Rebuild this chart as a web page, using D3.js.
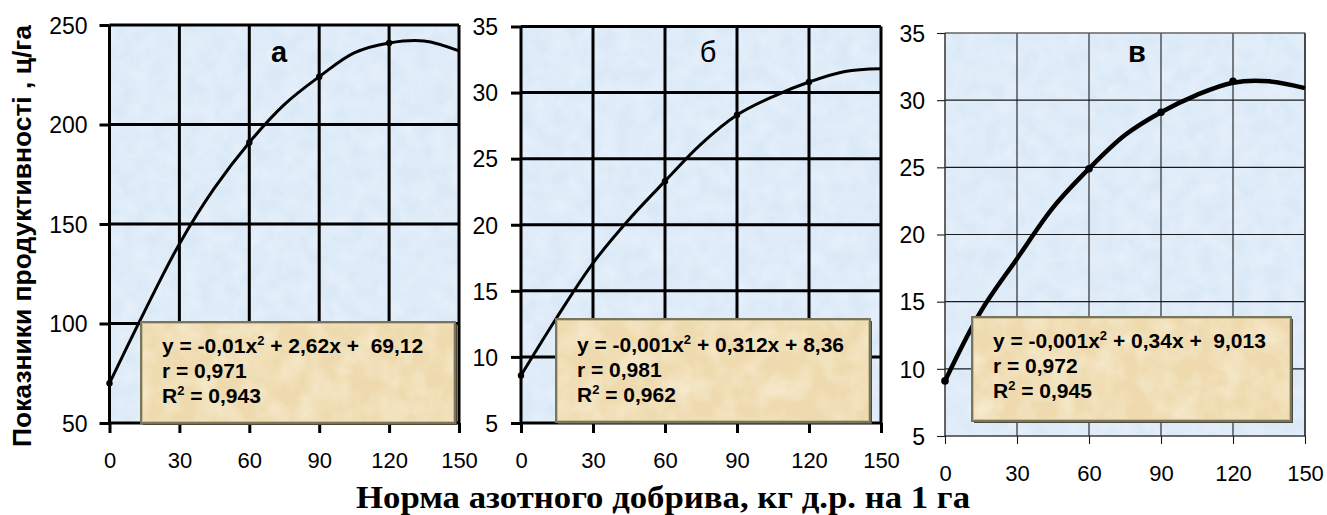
<!DOCTYPE html>
<html><head><meta charset="utf-8">
<script src="https://cdn.jsdelivr.net/npm/d3@7"></script>
<style>
html,body{margin:0;padding:0;background:#fff;}
svg{display:block;}
</style></head>
<body>
<svg id="chart" width="1327" height="515"></svg>
<script>
// ---- data ----
const xTicks = [0, 30, 60, 90, 120, 150];
const yTicksA = [50, 100, 150, 200, 250];
const yTicksBC = [5, 10, 15, 20, 25, 30, 35];
const panelLabels = ["а", "б", "в"];
const curveX = [0, 15, 30, 45, 60, 75, 90, 105, 120, 135, 150];
const curveA = [70, 106, 140, 168, 191, 210, 224, 236, 241, 242, 237];
const curveB = [8.6, 13, 17.1, 20.4, 23.3, 26.1, 28.3, 29.7, 30.8, 31.6, 31.8];
const curveC = [9.1, 14.3, 18.2, 22, 24.9, 27.4, 29.1, 30.4, 31.3, 31.4, 30.9];
const pointsX = [0, 60, 90, 120];
const pointsA = [70, 191, 224, 241];
const pointsB = [8.6, 23.3, 28.3, 30.8];
const pointsC = [9.1, 24.9, 29.1, 31.4];
const eqLeft = ["y = -0,01x", "y = -0,001x", "y = -0,001x"];
const eqRight = [" + 2,62x +  69,12", " + 0,312x + 8,36", " + 0,34x +  9,013"];
const rValues = ["r = 0,971", "r = 0,981", "r = 0,972"];
const r2Values = [" = 0,943", " = 0,962", " = 0,945"];
const yTitle = "Показники продуктивності , ц/га";
const xTitle = "Норма азотного добрива, кг д.р. на 1 га";

// ---- layout ----
const SANS = "Arial, 'Liberation Sans', sans-serif";
const SERIF = "'Liberation Serif', 'Times New Roman', serif";
const panels = [
  {x0:109.5, x1:459, yT:25, yB:423, dom:[50,250], ticks:yTicksA, curve:curveA, pts:pointsA,
   gridW:3, gridC:"#000", curveW:3, r:3.2, tickLen:10, lblOff:22, box:[141,322,455,423], txOff:31, lab:[279,62], labW:"bold"},
  {x0:521, x1:881, yT:26.5, yB:423, dom:[5,35], ticks:yTicksBC, curve:curveB, pts:pointsB,
   gridW:3, gridC:"#000", curveW:3, r:3.2, tickLen:10, lblOff:23, box:[556,319,870,422], txOff:33, lab:[708,62], labW:"normal"},
  {x0:945, x1:1305, yT:33, yB:436, dom:[5,35], ticks:yTicksBC, curve:curveC, pts:pointsC,
   gridW:1.1, gridC:"#1a1a1a", curveW:4.5, r:3.8, tickLen:8, lblOff:20, box:[972,317,1291,421], txOff:31, lab:[1137,62], labW:"bold"}
];

const svg = d3.select("#chart");
const defs = svg.append("defs");
const f1 = defs.append("filter").attr("id","tex").attr("x",0).attr("y",0).attr("width","100%").attr("height","100%");
f1.append("feTurbulence").attr("type","fractalNoise").attr("baseFrequency","0.06").attr("numOctaves",3).attr("seed",3).attr("result","n");
f1.append("feColorMatrix").attr("in","n").attr("type","matrix")
  .attr("values","0 0 0 0 0.86  0 0 0 0 0.92  0 0 0 0 0.98  0 0 0 0.9 -0.25").attr("result","c");
f1.append("feComposite").attr("in","c").attr("in2","SourceGraphic").attr("operator","in");
const f2 = defs.append("filter").attr("id","tex2").attr("x",0).attr("y",0).attr("width","100%").attr("height","100%");
f2.append("feTurbulence").attr("type","fractalNoise").attr("baseFrequency","0.04").attr("numOctaves",3).attr("seed",7).attr("result","n");
f2.append("feColorMatrix").attr("in","n").attr("type","matrix")
  .attr("values","0 0 0 0 0.98  0 0 0 0 0.93  0 0 0 0 0.80  0 0 0 1.0 -0.35").attr("result","c");
f2.append("feComposite").attr("in","c").attr("in2","SourceGraphic").attr("operator","in");

panels.forEach((p, i) => {
  const x = d3.scaleLinear().domain([0,150]).range([p.x0, p.x1]);
  const y = d3.scaleLinear().domain(p.dom).range([p.yB, p.yT]);
  const g = svg.append("g");

  g.append("rect").attr("x",p.x0).attr("y",p.yT).attr("width",p.x1-p.x0).attr("height",p.yB-p.yT)
    .attr("fill","#dbe9f7");
  g.append("rect").attr("x",p.x0).attr("y",p.yT).attr("width",p.x1-p.x0).attr("height",p.yB-p.yT)
    .attr("fill","#dbe9f7").attr("filter","url(#tex)");

  // grid
  g.append("g").selectAll("line").data(p.ticks.slice(1)).join("line")
    .attr("x1",p.x0).attr("x2",p.x1).attr("y1",d=>y(d)).attr("y2",d=>y(d))
    .attr("stroke",p.gridC).attr("stroke-width",p.gridW);
  g.append("g").selectAll("line").data(xTicks.slice(1)).join("line")
    .attr("x1",d=>x(d)).attr("x2",d=>x(d)).attr("y1",p.yT).attr("y2",p.yB)
    .attr("stroke",p.gridC).attr("stroke-width",p.gridW);
  if (i === 2) {
    g.append("rect").attr("x",p.x0).attr("y",p.yT).attr("width",p.x1-p.x0).attr("height",p.yB-p.yT)
      .attr("fill","none").attr("stroke","#888").attr("stroke-width",1);
    g.append("line").attr("x1",p.x1).attr("x2",p.x1).attr("y1",p.yT).attr("y2",p.yB)
      .attr("stroke","#222").attr("stroke-width",1.2);
  }

  // axes
  const ya = g.append("g").attr("transform",`translate(${p.x0},0)`)
    .call(d3.axisLeft(y).tickValues(p.ticks).tickSize(p.tickLen));
  ya.select(".domain").attr("stroke",p.gridC).attr("stroke-width",p.gridW).attr("d",`M0,${p.yT}V${p.yB}`);
  ya.selectAll(".tick line").attr("stroke",p.gridC).attr("stroke-width",p.gridW);
  ya.selectAll(".tick text").style("font-family",SANS).style("font-size","23px").attr("fill","#000")
    .attr("x",-p.lblOff).attr("dy","0.36em");

  const xa = g.append("g").attr("transform",`translate(0,${p.yB})`)
    .call(d3.axisBottom(x).tickValues(xTicks).tickSize(p.tickLen));
  xa.select(".domain").attr("stroke",p.gridC).attr("stroke-width",p.gridW).attr("d",`M${p.x0},0H${p.x1}`);
  xa.selectAll(".tick line").attr("stroke",p.gridC).attr("stroke-width",p.gridW);
  xa.selectAll(".tick text").style("font-family",SANS).style("font-size","22px").attr("fill","#000")
    .attr("y",45).attr("dy",0);

  // curve + markers
  const line = d3.line().x((d,k)=>x(curveX[k])).y(d=>y(d)).curve(d3.curveCatmullRom.alpha(0.5));
  g.append("path").datum(p.curve).attr("d",line).attr("fill","none")
    .attr("stroke","#000").attr("stroke-width",p.curveW).attr("stroke-linejoin","round");
  g.append("g").selectAll("circle").data(p.pts).join("circle")
    .attr("cx",(d,k)=>x(pointsX[k])).attr("cy",d=>y(d)).attr("r",p.r).attr("fill","#000");

  // panel letter
  g.append("text").attr("x",p.lab[0]).attr("y",p.lab[1]).attr("text-anchor","middle")
    .style("font-family",SANS).style("font-size","29px").style("font-weight",p.labW).text(panelLabels[i]);

  // equation box
  const [bx0,by0,bx1,by1] = p.box;
  g.append("rect").attr("x",bx0+2).attr("y",by0+2).attr("width",bx1-bx0).attr("height",by1-by0)
    .attr("fill","#4d4838");
  g.append("rect").attr("x",bx0).attr("y",by0).attr("width",bx1-bx0).attr("height",by1-by0)
    .attr("fill","#eedaae").attr("stroke","#7a745c").attr("stroke-width",2);
  g.append("rect").attr("x",bx0+1).attr("y",by0+1).attr("width",bx1-bx0-2).attr("height",by1-by0-2)
    .attr("fill","#eedaae").attr("filter","url(#tex2)");
  g.append("rect").attr("x",bx0+1.5).attr("y",by0+1.5).attr("width",bx1-bx0-3).attr("height",by1-by0-3)
    .attr("fill","none").attr("stroke","#c9bd95").attr("stroke-width",1);

  const tx = bx0 + 21, ty = by0 + p.txOff;
  const mk = (yy) => g.append("text").attr("x",tx).attr("y",yy)
    .style("font-family",SANS).style("font-size","21px").style("font-weight","bold").style("white-space","pre");
  const t1 = mk(ty);
  t1.append("tspan").text(eqLeft[i]);
  t1.append("tspan").attr("dy",-8).style("font-size","13px").text("2");
  t1.append("tspan").attr("dy",8).text(eqRight[i]);
  mk(ty+25).text(rValues[i]);
  const t3 = mk(ty+50);
  t3.append("tspan").text("R");
  t3.append("tspan").attr("dy",-8).style("font-size","13px").text("2");
  t3.append("tspan").attr("dy",8).text(r2Values[i]);
});

// axis titles
svg.append("text").attr("transform","translate(31,236) rotate(-90)").attr("text-anchor","middle")
  .style("font-family",SANS).style("font-size","25px").style("font-weight","bold")
  .attr("textLength",422).attr("lengthAdjust","spacingAndGlyphs").text(yTitle);
svg.append("text").attr("x",663).attr("y",508).attr("text-anchor","middle")
  .style("font-family",SERIF).style("font-size","32px").style("font-weight","bold")
  .attr("textLength",614).attr("lengthAdjust","spacingAndGlyphs").text(xTitle);
</script>
</body></html>
